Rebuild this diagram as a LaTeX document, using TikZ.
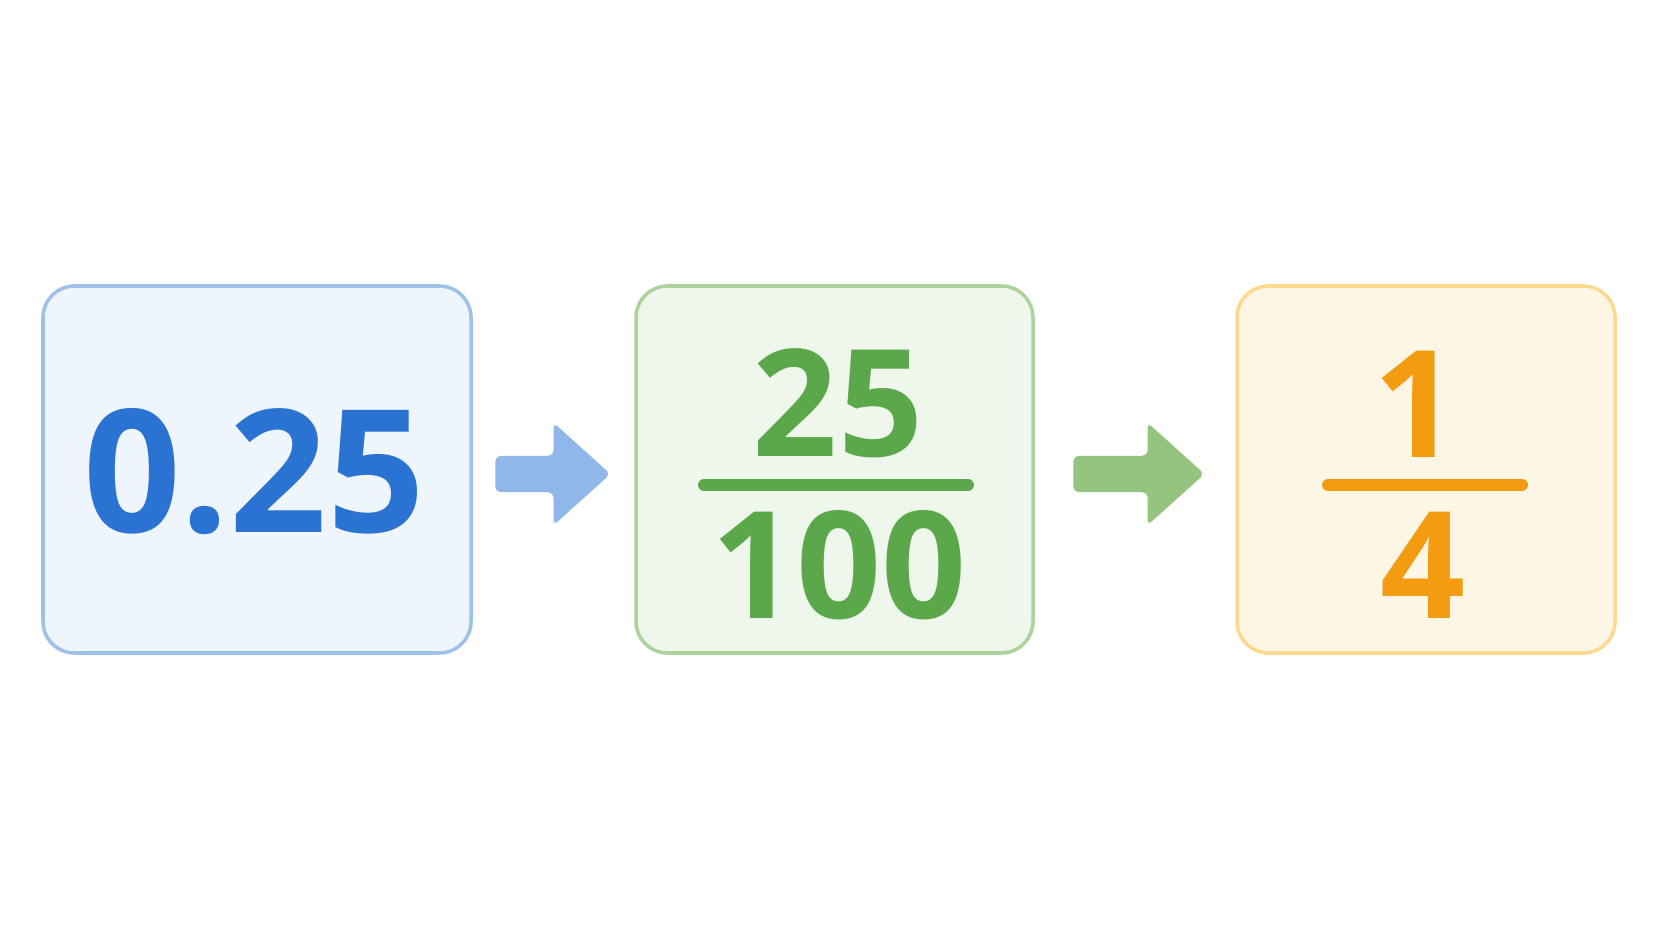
\documentclass[tikz,border=0pt]{standalone}
\usepackage{fontspec}
\newfontfamily\numfont{Open Sans}
\usetikzlibrary{shapes.arrows,calc}

\definecolor{decblue}{HTML}{2B73D2}
\definecolor{decline}{HTML}{9EC1E9}
\definecolor{decfill}{HTML}{EEF5FD}
\definecolor{decarrow}{HTML}{8FB7E9}
\definecolor{hundgreen}{HTML}{5BA84A}
\definecolor{hundline}{HTML}{AED29C}
\definecolor{hundfill}{HTML}{EFF6EB}
\definecolor{hundarrow}{HTML}{95C47F}
\definecolor{quartorange}{HTML}{F39C12}
\definecolor{quartline}{HTML}{FDD98E}
\definecolor{quartfill}{HTML}{FEF6E5}

\begin{document}
\begin{tikzpicture}[
    card/.style={draw,rounded corners=9pt,line width=1pt,minimum height=3.67cm},
    bignum/.style={font=\numfont\bfseries\fontsize{48.7}{48.7}\selectfont,inner sep=0pt},
    fracnum/.style={font=\numfont\bfseries\fontsize{42.4}{42.4}\selectfont,inner sep=0pt},
    bar/.style={line width=3.4pt,line cap=round},
    flow/.style={single arrow,inner sep=0pt,inner ysep=0.175cm,anchor=tail,
      single arrow head extend=0.33cm,single arrow tip angle=84,
      rounded corners=1.5pt}
  ]

  \useasboundingbox[fill=white] (0,0) rectangle (16.72,9.41);

  % Cards
  \node[card,draw=decline,fill=decfill,minimum width=4.28cm] (dec) at (2.57,4.715) {};
  \node[card,draw=hundline,fill=hundfill,minimum width=3.97cm] (hund) at (8.345,4.715) {};
  \node[card,draw=quartline,fill=quartfill,minimum width=3.78cm] (quart) at (14.26,4.715) {};

  % Numbers
  \node[bignum,text=decblue] (decval) at (2.54,4.69) {0.25};

  \node[fracnum,text=hundgreen] (hundtop) at (8.38,5.38) {25};
  \node[fracnum,text=hundgreen] (hundbot) at (8.387,3.76) {100};
  \coordinate (hundl) at (7.04,4.56);
  \coordinate (hundr) at (9.68,4.56);
  \draw[bar,hundgreen] (hundl) -- (hundr);

  \node[fracnum,text=quartorange] (quarttop) at (14.16,5.37) {1};
  \node[fracnum,text=quartorange] (quartbot) at (14.235,3.76) {4};
  \coordinate (quartl) at (13.28,4.56);
  \coordinate (quartr) at (15.22,4.56);
  \draw[bar,quartorange] (quartl) -- (quartr);

  % Arrows
  \node[flow,fill=decarrow,minimum height=1.15cm] (step1) at ($(dec.east)+(0.22,-0.045)$) {};
  \node[flow,fill=hundarrow,minimum height=1.31cm] (step2) at ($(hund.east)+(0.38,-0.045)$) {};

\end{tikzpicture}
\end{document}
